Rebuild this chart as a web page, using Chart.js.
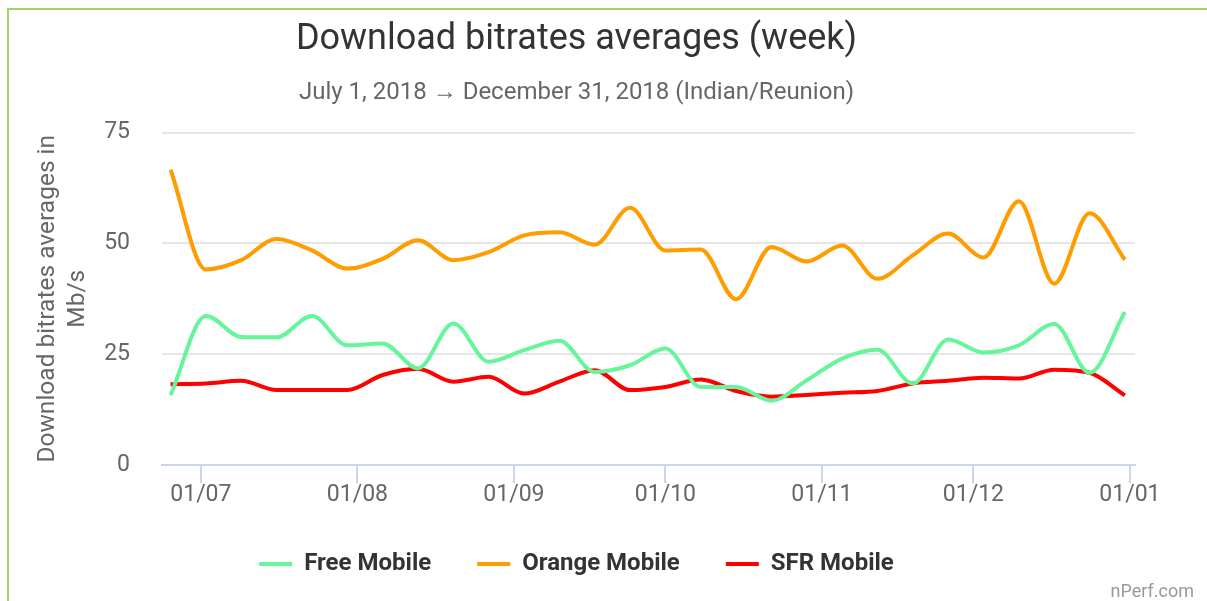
<!DOCTYPE html>
<html>
<head>
<meta charset="utf-8">
<title>Download bitrates averages (week)</title>
<script src="https://cdn.jsdelivr.net/npm/chart.js@4.4.1/dist/chart.umd.min.js"></script>
<style>
  html, body { margin: 0; padding: 0; background: #fff; overflow: hidden; }
  #wrap { position: absolute; left: 0; top: 0; width: 1207px; height: 601px; }
  /* green frame around the widget, the right and bottom edges fall outside the shot */
  #frame { position: absolute; left: 7px; top: 8px; width: 1300px; height: 700px; border: 2px solid #9dd46b; box-sizing: border-box; pointer-events: none; }
</style>
</head>
<body>
<div id="wrap"><canvas id="chart" width="1207" height="601"></canvas></div>
<div id="frame"></div>
<script>
// weekly points (week start, Monday)
const weekStarts = [
  '2018-06-25', '2018-07-02', '2018-07-09', '2018-07-16', '2018-07-23', '2018-07-30', '2018-08-06',
  '2018-08-13', '2018-08-20', '2018-08-27', '2018-09-03', '2018-09-10', '2018-09-17', '2018-09-24',
  '2018-10-01', '2018-10-08', '2018-10-15', '2018-10-22', '2018-10-29', '2018-11-05', '2018-11-12',
  '2018-11-19', '2018-11-26', '2018-12-03', '2018-12-10', '2018-12-17', '2018-12-24', '2018-12-31'
];

// Mb/s
const freeMobile = [
  15.8, 33.6, 28.9, 28.8, 33.6, 27.0, 27.4, 21.8, 31.9, 23.3, 25.9, 28.0, 21.0, 22.5,
  26.3, 17.6, 17.6, 14.5, 19.1, 24.0, 26.0, 18.4, 28.3, 25.4, 27.0, 31.8, 20.8, 34.5
];
const orangeMobile = [
  66.6, 44.1, 46.2, 51.0, 48.4, 44.3, 46.5, 50.7, 46.2, 48.0, 51.8, 52.5, 49.7, 58.0,
  48.4, 48.6, 37.4, 49.2, 45.9, 49.5, 42.0, 47.3, 52.2, 46.8, 59.5, 40.9, 56.8, 46.3
];
const sfrMobile = [
  18.2, 18.4, 19.0, 16.9, 16.9, 16.9, 20.3, 21.7, 18.8, 19.9, 16.1, 18.8, 21.4, 16.9,
  17.6, 19.3, 16.7, 15.4, 15.8, 16.3, 16.7, 18.4, 19.0, 19.7, 19.5, 21.5, 20.8, 15.7
];

// x axis ticks
const tickDates = ['2018-07-01', '2018-08-01', '2018-09-01', '2018-10-01', '2018-11-01', '2018-12-01', '2019-01-01'];
const tickLabels = ['01/07', '01/08', '01/09', '01/10', '01/11', '01/12', '01/01'];

const yTicks = [0, 25, 50, 75];

// days since 1 July, used as the x value
const origin = Date.parse('2018-07-01');
const dayOffset = (d) => (Date.parse(d) - origin) / 86400000;
const tickDays = tickDates.map(dayOffset);

const toPoints = (values) => weekStarts.map((d, i) => ({ x: dayOffset(d), y: values[i] }));

Chart.defaults.font.family = 'Roboto';

// small credit in the corner
const creditPlugin = {
  id: 'credit',
  afterDraw(chart) {
    const ctx = chart.ctx;
    ctx.save();
    ctx.font = '18px Roboto';
    ctx.fillStyle = '#999999';
    ctx.textAlign = 'right';
    ctx.textBaseline = 'alphabetic';
    ctx.fillText('nPerf.com', 1194, 597);
    ctx.restore();
  }
};

const lineStyle = (color) => ({
  borderColor: color,
  backgroundColor: color,
  borderWidth: 4,
  pointRadius: 0,
  pointHoverRadius: 0,
  fill: false,
  cubicInterpolationMode: 'monotone'
});

const ctx = document.getElementById('chart').getContext('2d');
new Chart(ctx, {
  type: 'line',
  data: {
    datasets: [
      { label: 'Free Mobile', data: toPoints(freeMobile), ...lineStyle('#66f59a') },
      { label: 'Orange Mobile', data: toPoints(orangeMobile), ...lineStyle('#ff9c00') },
      { label: 'SFR Mobile', data: toPoints(sfrMobile), ...lineStyle('#ff0000') }
    ]
  },
  options: {
    responsive: false,
    animation: false,
    layout: { padding: { left: 18, right: 72, top: 0, bottom: 15 } },
    plugins: {
      title: {
        display: true,
        text: 'Download bitrates averages (week)',
        color: '#333333',
        font: { size: 36, weight: 'normal', lineHeight: 1.2 },
        padding: { top: 18.5, bottom: 0 }
      },
      subtitle: {
        display: true,
        text: 'July 1, 2018 \u2192 December 31, 2018 (Indian/Reunion)',
        color: '#666666',
        font: { size: 24, lineHeight: 1.2 },
        padding: { top: 16.5, bottom: 25.5 }
      },
      legend: {
        position: 'bottom',
        labels: {
          boxWidth: 33,
          boxHeight: 4,
          padding: 46,
          color: '#333333',
          font: { size: 24, weight: 'bold' },
          generateLabels: (chart) => Chart.defaults.plugins.legend.labels.generateLabels(chart)
            .map(item => ({ ...item, lineWidth: 0, fillStyle: item.strokeStyle }))
        }
      },
      tooltip: { enabled: false }
    },
    scales: {
      x: {
        type: 'linear',
        min: -7.7,
        max: 185,
        afterBuildTicks: (scale) => { scale.ticks = tickDays.map(v => ({ value: v })); },
        afterFit: (scale) => { scale.height = 41; scale.paddingLeft = 0; scale.paddingRight = 0; },
        ticks: {
          autoSkip: false,
          maxRotation: 0,
          padding: -2,
          color: '#666666',
          font: { size: 23 },
          callback: (value, index) => tickLabels[index]
        },
        grid: { drawOnChartArea: false, drawTicks: true, tickLength: 18, color: '#ccd6eb', lineWidth: 2 },
        border: { display: true, color: '#ccd6eb', width: 2 }
      },
      y: {
        min: 0,
        max: 75,
        afterBuildTicks: (scale) => { scale.ticks = yTicks.map(v => ({ value: v })); },
        afterFit: (scale) => { scale.width = 144; },
        ticks: { padding: 32, color: '#666666', font: { size: 23 } },
        grid: {
          drawTicks: false,
          lineWidth: 2,
          color: (c) => c.tick && c.tick.value === 0 ? 'rgba(0,0,0,0)' : '#e6e6e6'
        },
        border: { display: false },
        title: {
          display: true,
          text: ['Download bitrates averages in', 'Mb/s'],
          color: '#666666',
          font: { size: 24.5, lineHeight: 1.22 },
          padding: { top: 15, bottom: 0 }
        }
      }
    }
  },
  plugins: [creditPlugin]
});
</script>
</body>
</html>
